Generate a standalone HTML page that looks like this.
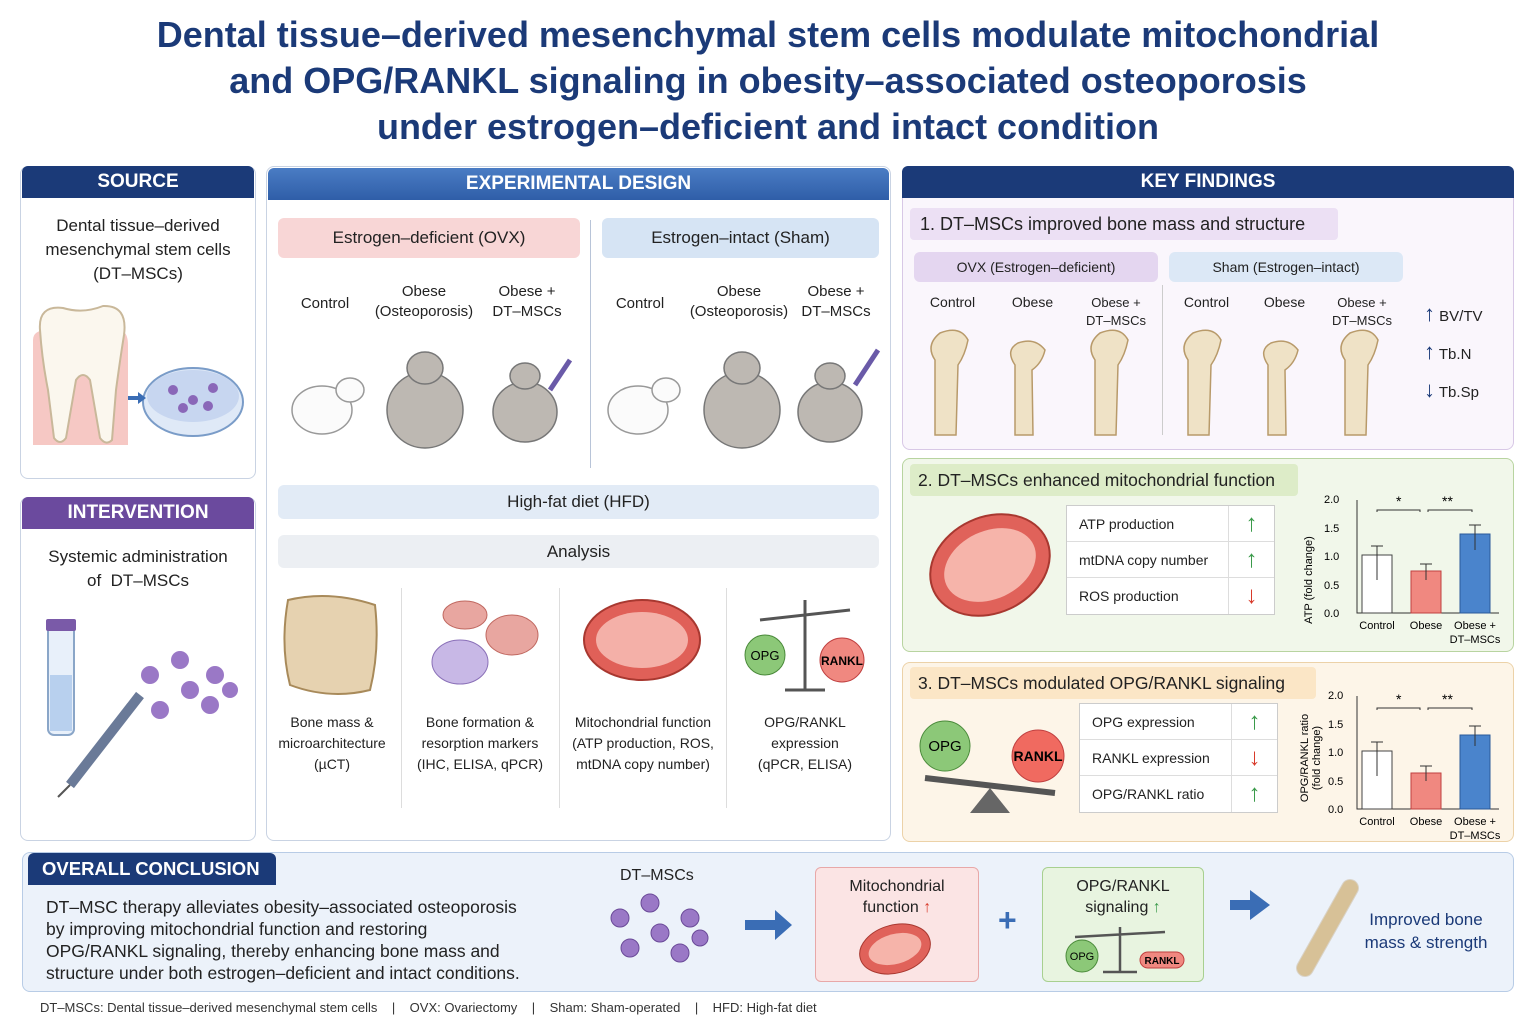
<!DOCTYPE html>
<html><head><meta charset="utf-8">
<style>
*{box-sizing:border-box;margin:0;padding:0}
body{width:1536px;height:1024px;background:#fff;font-family:"Liberation Sans",sans-serif;position:relative;overflow:hidden;color:#222}
.a{position:absolute}
.t{text-align:center}
.title{left:0;width:1536px;top:12px;text-align:center;color:#1b3a78;font-weight:bold;font-size:36px;line-height:46px}
.panel{border:1.5px solid #c9d3e3;border-radius:8px}
.hdr{color:#fff;font-weight:bold;font-size:19px;text-align:center;line-height:32px;border-radius:6px 6px 0 0;white-space:nowrap}
.pill{border-radius:6px;text-align:center;font-size:17px;white-space:nowrap}
.sm{font-size:15px;line-height:20px}
.tbl{border:1px solid #ccc;background:#fff}
.tbl div{border-bottom:1px solid #ddd;height:36px;line-height:36px;font-size:14px;padding-left:12px;position:relative}
.tbl div:last-child{border-bottom:none}
.tbl span{position:absolute;right:0;top:0;width:46px;border-left:1px solid #ddd;text-align:center;font-weight:bold;font-size:24px}
.up{color:#3a9a4a}.dn{color:#d83a2a}
.nw{white-space:nowrap}
</style></head><body>
<div class="a title">Dental tissue–derived mesenchymal stem cells modulate mitochondrial<br>and OPG/RANKL signaling in obesity–associated osteoporosis<br>under estrogen–deficient and intact condition</div>

<!-- SOURCE -->
<div class="a panel" style="left:20px;top:166px;width:236px;height:313px"></div>
<div class="a hdr" style="left:22px;top:166px;width:232px;background:#1b3a78">SOURCE</div>
<div class="a t" style="left:22px;top:214px;width:232px;font-size:17px;line-height:24px">Dental tissue–derived<br>mesenchymal stem cells<br>(DT–MSCs)</div>
<svg class="a" style="left:28px;top:300px" width="222" height="150">
<path d="M5 40 Q5 30 20 30 L90 30 Q100 30 100 45 L100 145 L5 145Z" fill="#f6c8c4"/>
<path d="M12 30 Q10 5 35 8 Q55 14 75 6 Q100 5 96 35 Q92 60 88 90 L84 140 Q78 146 72 138 L62 80 Q55 70 48 80 L38 138 Q32 146 26 138 L20 90 Q14 60 12 30Z" fill="#fbf7ee" stroke="#c9b89a" stroke-width="2"/>
<ellipse cx="165" cy="102" rx="50" ry="34" fill="#dfe9f7" stroke="#7a9cc8" stroke-width="2"/>
<ellipse cx="165" cy="96" rx="46" ry="26" fill="#c7d6f0"/>
<g fill="#8a67b8"><circle cx="145" cy="90" r="5"/><circle cx="165" cy="100" r="5"/><circle cx="185" cy="88" r="5"/><circle cx="155" cy="108" r="5"/><circle cx="180" cy="106" r="5"/></g>
<path d="M100 98 L112 98" stroke="#3a6db5" stroke-width="4"/><path d="M110 92 L118 98 L110 104Z" fill="#3a6db5"/>
</svg>

<!-- INTERVENTION -->
<div class="a panel" style="left:20px;top:497px;width:236px;height:344px"></div>
<div class="a hdr" style="left:22px;top:497px;width:232px;background:#6b4a9e">INTERVENTION</div>
<div class="a t" style="left:22px;top:545px;width:232px;font-size:17px;line-height:24px">Systemic administration<br>of &nbsp;DT–MSCs</div>
<svg class="a" style="left:40px;top:615px" width="210" height="185">
<rect x="8" y="10" width="26" height="110" rx="6" fill="#e8f0fa" stroke="#8aa6c8" stroke-width="2"/>
<rect x="6" y="4" width="30" height="12" rx="2" fill="#7a5aa8"/>
<rect x="10" y="60" width="22" height="56" fill="#b8d0ee"/>
<path d="M100 80 L30 170" stroke="#6a7a98" stroke-width="10"/>
<path d="M30 170 L18 182" stroke="#555" stroke-width="2"/>
<g fill="#9a78c6"><circle cx="110" cy="60" r="9"/><circle cx="140" cy="45" r="9"/><circle cx="150" cy="75" r="9"/><circle cx="175" cy="60" r="9"/><circle cx="120" cy="95" r="9"/><circle cx="170" cy="90" r="9"/><circle cx="190" cy="75" r="8"/></g>
</svg>

<!-- EXPERIMENTAL DESIGN -->
<div class="a panel" style="left:266px;top:166px;width:625px;height:675px"></div>
<div class="a hdr" style="left:268px;top:168px;width:621px;background:linear-gradient(#4a7cc4,#2f5ea8)">EXPERIMENTAL DESIGN</div>
<div class="a pill" style="left:278px;top:218px;width:302px;height:40px;line-height:40px;background:#f8d6d6">Estrogen–deficient (OVX)</div>
<div class="a pill" style="left:602px;top:218px;width:277px;height:40px;line-height:40px;background:#d6e4f4">Estrogen–intact (Sham)</div>
<div class="a" style="left:590px;top:220px;width:1px;height:248px;background:#b8c4d8"></div>
<div class="a t sm" style="left:290px;top:294px;width:70px">Control</div>
<div class="a t sm" style="left:370px;top:282px;width:108px">Obese<br>(Osteoporosis)</div>
<div class="a t sm" style="left:484px;top:282px;width:86px">Obese +<br>DT–MSCs</div>
<div class="a t sm" style="left:605px;top:294px;width:70px">Control</div>
<div class="a t sm" style="left:685px;top:282px;width:108px">Obese<br>(Osteoporosis)</div>
<div class="a t sm" style="left:796px;top:282px;width:80px">Obese +<br>DT–MSCs</div>
<svg class="a" style="left:270px;top:340px" width="620" height="115">
<g fill="#fbfbfb" stroke="#999" stroke-width="1.5"><ellipse cx="52" cy="70" rx="30" ry="24"/><ellipse cx="80" cy="50" rx="14" ry="12"/></g>
<g fill="#bdb8b2" stroke="#777" stroke-width="1.5"><ellipse cx="155" cy="70" rx="38" ry="38"/><ellipse cx="155" cy="28" rx="18" ry="16"/><ellipse cx="255" cy="72" rx="32" ry="30"/><ellipse cx="255" cy="36" rx="15" ry="13"/></g>
<path d="M300 20 L280 50" stroke="#6a5aa8" stroke-width="5"/>
<g fill="#fbfbfb" stroke="#999" stroke-width="1.5"><ellipse cx="368" cy="70" rx="30" ry="24"/><ellipse cx="396" cy="50" rx="14" ry="12"/></g>
<g fill="#bdb8b2" stroke="#777" stroke-width="1.5"><ellipse cx="472" cy="70" rx="38" ry="38"/><ellipse cx="472" cy="28" rx="18" ry="16"/><ellipse cx="560" cy="72" rx="32" ry="30"/><ellipse cx="560" cy="36" rx="15" ry="13"/></g>
<path d="M608 10 L585 45" stroke="#6a5aa8" stroke-width="5"/>
</svg>
<div class="a pill" style="left:278px;top:485px;width:601px;height:34px;line-height:34px;background:#e2ebf6;font-size:17px">High-fat diet (HFD)</div>
<div class="a pill" style="left:278px;top:535px;width:601px;height:33px;line-height:33px;background:#eceff3;font-size:17px">Analysis</div>
<div class="a" style="left:401px;top:588px;width:1px;height:220px;background:#ddd"></div>
<div class="a" style="left:559px;top:588px;width:1px;height:220px;background:#ddd"></div>
<div class="a" style="left:726px;top:588px;width:1px;height:220px;background:#ddd"></div>
<svg class="a" style="left:280px;top:590px" width="600" height="110">
<path d="M8 10 Q50 0 95 15 Q100 60 90 100 Q50 110 10 95 Q0 55 8 10Z" fill="#e6d2b0" stroke="#a88a5a" stroke-width="2"/>
<g fill="#e8a6a0" stroke="#c06860"><ellipse cx="185" cy="25" rx="22" ry="14"/><ellipse cx="232" cy="45" rx="26" ry="20"/></g>
<ellipse cx="180" cy="72" rx="28" ry="22" fill="#c8b8e6" stroke="#8a70b8"/>
<ellipse cx="362" cy="50" rx="58" ry="40" fill="#e06058" stroke="#a83830" stroke-width="2"/>
<ellipse cx="362" cy="50" rx="46" ry="28" fill="#f4b0a8"/>
<path d="M525 10 L525 100 M505 100 L545 100 M480 30 L570 20" stroke="#555" stroke-width="3"/>
<circle cx="485" cy="65" r="20" fill="#8cc878" stroke="#4a8a3a"/><text x="485" y="70" font-size="13" text-anchor="middle" font-family="Liberation Sans">OPG</text>
<circle cx="562" cy="70" r="22" fill="#f08880" stroke="#c04040"/><text x="562" y="75" font-size="12" font-weight="bold" text-anchor="middle" font-family="Liberation Sans">RANKL</text>
</svg>
<div class="a t" style="left:270px;top:712px;width:124px;font-size:14px;line-height:21px">Bone mass &amp;<br>microarchitecture<br>(µCT)</div>
<div class="a t" style="left:404px;top:712px;width:152px;font-size:14px;line-height:21px">Bone formation &amp;<br>resorption markers<br>(IHC, ELISA, qPCR)</div>
<div class="a t" style="left:562px;top:712px;width:162px;font-size:14px;line-height:21px">Mitochondrial function<br>(ATP production, ROS,<br>mtDNA copy number)</div>
<div class="a t" style="left:730px;top:712px;width:150px;font-size:14px;line-height:21px">OPG/RANKL<br>expression<br>(qPCR, ELISA)</div>

<!-- KEY FINDINGS -->
<div class="a panel" style="left:902px;top:166px;width:612px;height:284px;background:#faf6fc;border-color:#d8c8e6"></div>
<div class="a hdr" style="left:902px;top:166px;width:612px;background:#1b3a78">KEY FINDINGS</div>
<div class="a nw" style="left:910px;top:208px;width:428px;height:32px;line-height:32px;background:#ece0f4;font-size:18px;padding-left:10px;border-radius:4px">1. DT–MSCs improved bone mass and structure</div>
<div class="a pill" style="left:914px;top:252px;width:244px;height:30px;line-height:30px;background:#e4d6f0;font-size:14px">OVX (Estrogen–deficient)</div>
<div class="a pill" style="left:1169px;top:252px;width:234px;height:30px;line-height:30px;background:#dce8f6;font-size:14px">Sham (Estrogen–intact)</div>
<div class="a" style="left:1162px;top:285px;width:1px;height:150px;background:#ccc"></div>
<div class="a t" style="left:920px;top:294px;width:65px;font-size:14px">Control</div>
<div class="a t" style="left:1000px;top:294px;width:65px;font-size:14px">Obese</div>
<div class="a t" style="left:1076px;top:294px;width:80px;font-size:13px;line-height:18px">Obese +<br>DT–MSCs</div>
<div class="a t" style="left:1174px;top:294px;width:65px;font-size:14px">Control</div>
<div class="a t" style="left:1252px;top:294px;width:65px;font-size:14px">Obese</div>
<div class="a t" style="left:1322px;top:294px;width:80px;font-size:13px;line-height:18px">Obese +<br>DT–MSCs</div>
<svg class="a" style="left:920px;top:325px" width="480" height="112">
<g fill="#efe2c6" stroke="#b89a6a" stroke-width="1.5">
<path d="M15 110 L15 35 Q5 20 20 8 Q40 0 48 15 Q45 30 38 40 L36 110Z"/>
<path d="M95 110 L95 40 Q85 25 98 18 Q115 12 125 25 Q122 38 112 45 L113 110Z"/>
<path d="M175 110 L175 35 Q165 20 180 8 Q200 0 208 15 Q205 30 198 40 L196 110Z"/>
<path d="M268 110 L268 35 Q258 20 273 8 Q293 0 301 15 Q298 30 291 40 L289 110Z"/>
<path d="M348 110 L348 40 Q338 25 351 18 Q368 12 378 25 Q375 38 365 45 L366 110Z"/>
<path d="M425 110 L425 35 Q415 20 430 8 Q450 0 458 15 Q455 30 448 40 L446 110Z"/>
</g></svg>
<div class="a" style="left:1424px;top:296px;font-size:15px;line-height:35px"><b style="color:#1b3a78;font-size:22px">↑</b> BV/TV<br><b style="color:#1b3a78;font-size:22px">↑</b> Tb.N<br><b style="color:#1b3a78;font-size:22px">↓</b> Tb.Sp</div>

<!-- PANEL 2 -->
<div class="a panel" style="left:902px;top:458px;width:612px;height:194px;background:#f1f7ea;border-color:#b8d4a0"></div>
<div class="a nw" style="left:910px;top:464px;width:388px;height:32px;line-height:32px;background:#ddecc8;font-size:17.5px;padding-left:8px;border-radius:4px">2. DT–MSCs enhanced mitochondrial function</div>
<svg class="a" style="left:920px;top:505px" width="140" height="120"><ellipse cx="70" cy="60" rx="62" ry="48" transform="rotate(-25 70 60)" fill="#e0625a" stroke="#a83830" stroke-width="2"/><ellipse cx="70" cy="60" rx="48" ry="34" transform="rotate(-25 70 60)" fill="#f6b4aa"/></svg>
<div class="a tbl" style="left:1066px;top:505px;width:209px"><div>ATP production<span class="up">↑</span></div><div>mtDNA copy number<span class="up">↑</span></div><div>ROS production<span class="dn">↓</span></div></div>
<svg class="a" style="left:1292px;top:490px" width="215" height="160" font-family="Liberation Sans" font-size="11">
<text x="20" y="90" transform="rotate(-90 20 90)" text-anchor="middle" font-size="11">ATP (fold change)</text>
<path d="M65 10 L65 123 L207 123" stroke="#333" fill="none"/>
<text x="32" y="13">2.0</text><text x="32" y="42">1.5</text><text x="32" y="70">1.0</text><text x="32" y="99">0.5</text><text x="32" y="127">0.0</text>
<rect x="70" y="65" width="30" height="58" fill="#fff" stroke="#444"/>
<rect x="119" y="81" width="30" height="42" fill="#f08880" stroke="#c04040"/>
<rect x="168" y="44" width="30" height="79" fill="#4a84cc" stroke="#2a5a9a"/>
<path d="M85 90 V56 M79 56 H91 M134 90 V74 M128 74 H140 M183 60 V35 M177 35 H189 M85 22 V20 H128 V22 M136 22 V20 H180 V22" stroke="#333" fill="none"/>
<text x="104" y="16" font-size="14">*</text><text x="150" y="16" font-size="14">**</text>
<text x="85" y="139" text-anchor="middle">Control</text><text x="134" y="139" text-anchor="middle">Obese</text><text x="183" y="139" text-anchor="middle">Obese +</text><text x="183" y="153" text-anchor="middle">DT–MSCs</text>
</svg>

<!-- PANEL 3 -->
<div class="a panel" style="left:902px;top:662px;width:612px;height:180px;background:#fdf5e8;border-color:#ecd2a8"></div>
<div class="a nw" style="left:910px;top:667px;width:406px;height:32px;line-height:32px;background:#fbe6c6;font-size:17.5px;padding-left:8px;border-radius:4px">3. DT–MSCs modulated OPG/RANKL signaling</div>
<svg class="a" style="left:915px;top:718px" width="160" height="100" font-family="Liberation Sans">
<path d="M10 60 L140 75" stroke="#555" stroke-width="6"/><path d="M75 70 L55 95 L95 95Z" fill="#666"/>
<circle cx="30" cy="28" r="25" fill="#8cc878" stroke="#4a8a3a"/><text x="30" y="33" text-anchor="middle" font-size="15">OPG</text>
<circle cx="123" cy="38" r="26" fill="#f06a60" stroke="#c04040"/><text x="123" y="43" text-anchor="middle" font-size="14" font-weight="bold">RANKL</text>
</svg>
<div class="a tbl" style="left:1079px;top:703px;width:199px"><div>OPG expression<span class="up">↑</span></div><div>RANKL expression<span class="dn">↓</span></div><div>OPG/RANKL ratio<span class="up">↑</span></div></div>
<svg class="a" style="left:1292px;top:686px" width="215" height="160" font-family="Liberation Sans" font-size="11">
<text x="16" y="72" transform="rotate(-90 16 72)" text-anchor="middle">OPG/RANKL ratio</text>
<text x="28" y="72" transform="rotate(-90 28 72)" text-anchor="middle">(fold change)</text>
<path d="M65 10 L65 123 L207 123" stroke="#333" fill="none"/>
<text x="36" y="13">2.0</text><text x="36" y="42">1.5</text><text x="36" y="70">1.0</text><text x="36" y="99">0.5</text><text x="36" y="127">0.0</text>
<rect x="70" y="65" width="30" height="58" fill="#fff" stroke="#444"/>
<rect x="119" y="87" width="30" height="36" fill="#f08880" stroke="#c04040"/>
<rect x="168" y="49" width="30" height="74" fill="#4a84cc" stroke="#2a5a9a"/>
<path d="M85 90 V56 M79 56 H91 M134 95 V80 M128 80 H140 M183 60 V40 M177 40 H189 M85 24 V22 H128 V24 M136 24 V22 H180 V24" stroke="#333" fill="none"/>
<text x="104" y="18" font-size="14">*</text><text x="150" y="18" font-size="14">**</text>
<text x="85" y="139" text-anchor="middle">Control</text><text x="134" y="139" text-anchor="middle">Obese</text><text x="183" y="139" text-anchor="middle">Obese +</text><text x="183" y="153" text-anchor="middle">DT–MSCs</text>
</svg>

<!-- CONCLUSION -->
<div class="a panel" style="left:22px;top:852px;width:1492px;height:140px;background:#ecf2fa;border-color:#b8cce6"></div>
<div class="a nw" style="left:28px;top:853px;width:248px;height:32px;line-height:32px;background:#1b3a78;color:#fff;font-weight:bold;font-size:18.5px;padding-left:14px;border-radius:6px 6px 0 0">OVERALL CONCLUSION</div>
<div class="a nw" style="left:46px;top:896px;font-size:17.5px;line-height:22px">DT–MSC therapy alleviates obesity–associated osteoporosis<br>by improving mitochondrial function and restoring<br>OPG/RANKL signaling, thereby enhancing bone mass and<br>structure under both estrogen–deficient and intact conditions.</div>
<div class="a" style="left:620px;top:867px;font-size:16px">DT–MSCs</div>
<svg class="a" style="left:600px;top:888px" width="200" height="80">
<g fill="#9a78c6" stroke="#6a4a98"><circle cx="20" cy="30" r="9"/><circle cx="50" cy="15" r="9"/><circle cx="60" cy="45" r="9"/><circle cx="90" cy="30" r="9"/><circle cx="30" cy="60" r="9"/><circle cx="80" cy="65" r="9"/><circle cx="100" cy="50" r="8"/></g>
<path d="M145 32 L175 32 L175 22 L192 37 L175 52 L175 42 L145 42Z" fill="#3a6db5"/>
</svg>
<div class="a" style="left:815px;top:867px;width:164px;height:115px;background:#fbe4e4;border:1.5px solid #e8a8a8;border-radius:6px"></div>
<div class="a t" style="left:815px;top:876px;width:164px;font-size:16px;line-height:21px">Mitochondrial<br>function <span style="color:#d83a2a">↑</span></div>
<svg class="a" style="left:855px;top:920px" width="80" height="58"><ellipse cx="40" cy="29" rx="36" ry="24" transform="rotate(-15 40 29)" fill="#e0625a" stroke="#a83830"/><ellipse cx="40" cy="29" rx="27" ry="15" transform="rotate(-15 40 29)" fill="#f6b4aa"/></svg>
<div class="a" style="left:998px;top:902px;font-size:32px;color:#3a6db5;font-weight:bold">+</div>
<div class="a" style="left:1042px;top:867px;width:162px;height:115px;background:#e8f4e0;border:1.5px solid #a8d090;border-radius:6px"></div>
<div class="a t" style="left:1042px;top:876px;width:162px;font-size:16px;line-height:21px">OPG/RANKL<br>signaling <span style="color:#3a9a4a">↑</span></div>
<svg class="a" style="left:1055px;top:922px" width="140" height="58" font-family="Liberation Sans">
<path d="M65 5 V50 M48 50 H82 M20 15 L110 10" stroke="#555" stroke-width="2.5"/>
<circle cx="27" cy="34" r="16" fill="#8cc878" stroke="#4a8a3a"/><text x="27" y="38" font-size="11" text-anchor="middle">OPG</text>
<rect x="85" y="30" width="44" height="16" rx="8" fill="#f08880" stroke="#c04040"/><text x="107" y="42" font-size="10" text-anchor="middle" font-weight="bold">RANKL</text>
</svg>
<svg class="a" style="left:1225px;top:868px" width="140" height="112">
<path d="M5 32 L25 32 L25 22 L45 37 L25 52 L25 42 L5 42Z" fill="#3a6db5"/>
<path d="M80 100 L125 20" stroke="#e8d6b0" stroke-width="16" stroke-linecap="round"/>
<path d="M80 100 L125 20" stroke="#b89a6a" stroke-width="18" stroke-linecap="round" fill="none" opacity=".35"/>
</svg>
<div class="a t" style="left:1356px;top:908px;width:140px;font-size:17px;line-height:23px;color:#1b3a78">Improved bone<br>mass &amp; strength</div>
<div class="a" style="left:40px;top:1000px;font-size:13px;color:#333">DT–MSCs: Dental tissue–derived mesenchymal stem cells &nbsp;&nbsp; | &nbsp;&nbsp; OVX: Ovariectomy &nbsp;&nbsp; | &nbsp;&nbsp; Sham: Sham-operated &nbsp;&nbsp; | &nbsp;&nbsp; HFD: High-fat diet</div>
</body></html>
